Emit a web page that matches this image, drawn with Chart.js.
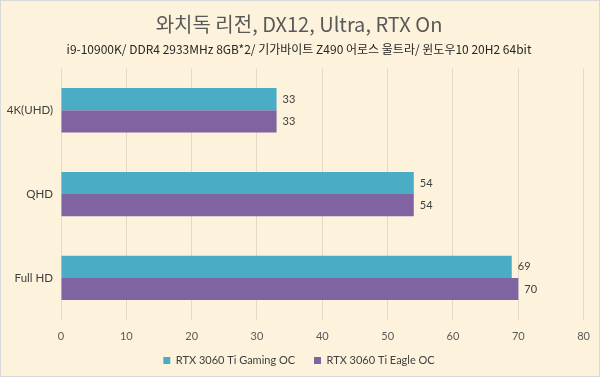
<!DOCTYPE html>
<html>
<head>
<meta charset="utf-8">
<script src="https://cdn.jsdelivr.net/npm/chart.js@4"></script>
<style>
  html, body { margin: 0; padding: 0; background: #fdf3dc; }
  #wrap { width: 600px; height: 377px; }
</style>
</head>
<body>
<div id="wrap"><canvas id="fpsChart" width="600" height="377"></canvas></div>
<script>
const resolutions = ['4K(UHD)', 'QHD', 'Full HD'];
const gamingOC = [33, 54, 69];
const eagleOC = [33, 54, 70];
const seriesNames = ['RTX 3060 Ti Gaming OC', 'RTX 3060 Ti Eagle OC'];
const xTicks = [0, 10, 20, 30, 40, 50, 60, 70, 80];

const latin = "'Lato', 'Noto Sans CJK KR', sans-serif";

// paper-ish background behind everything
const paperBg = {
    id: 'paperBg',
    beforeDraw(chart) {
        const c = chart.ctx;
        c.save();
        c.fillStyle = '#fdf3dc';
        c.fillRect(0, 0, chart.width, chart.height);
        c.strokeStyle = '#d9d9d9';
        c.strokeRect(0.5, 0.5, chart.width - 1, chart.height - 1);
        c.restore();
    }
};

// value labels at the end of each bar
const barValues = {
    id: 'barValues',
    afterDatasetsDraw(chart) {
        const c = chart.ctx;
        c.save();
        c.font = '11px ' + latin;
        c.fillStyle = '#404040';
        c.textBaseline = 'middle';
        chart.data.datasets.forEach((ds, i) => {
            chart.getDatasetMeta(i).data.forEach((bar, j) => {
                c.fillText(ds.data[j], bar.x + 6, bar.y);
            });
        });
        c.restore();
    }
};

new Chart(document.getElementById('fpsChart'), {
    type: 'bar',
    data: {
        labels: resolutions,
        datasets: [{
            label: seriesNames[0],
            data: gamingOC,
            backgroundColor: '#4bacc6'
        }, {
            label: seriesNames[1],
            data: eagleOC,
            backgroundColor: '#8064a2'
        }]
    },
    options: {
        indexAxis: 'y',
        responsive: false,
        animation: false,
        layout: { padding: { left: 4, right: 6, top: 10, bottom: 1 } },
        datasets: {
            bar: { categoryPercentage: 0.53, barPercentage: 1.0 }
        },
        scales: {
            x: {
                min: 0,
                max: 80,
                afterBuildTicks: (scale) => { scale.ticks = xTicks.map(v => ({ value: v })); },
                ticks: { color: '#595959', font: { size: 11, family: latin }, padding: 10 },
                grid: { color: '#e3d9c4', drawTicks: false },
                border: { display: false }
            },
            y: {
                ticks: { color: '#404040', font: { size: 11.5, family: latin }, padding: 8 },
                grid: { display: false, drawTicks: false },
                border: { display: false },
                afterFit: (scale) => { scale.width = 57; }
            }
        },
        plugins: {
            title: {
                display: true,
                text: '와치독 리전, DX12, Ultra, RTX On',
                color: '#595959',
                font: { size: 20, weight: 'normal', family: "'Noto Sans CJK KR', sans-serif" },
                padding: { top: 2, bottom: 4 }
            },
            subtitle: {
                display: true,
                text: 'i9-10900K/ DDR4 2933MHz 8GB*2/ 기가바이트 Z490 어로스 울트라/ 윈도우10 20H2 64bit',
                color: '#262626',
                font: { size: 12, family: "'Noto Sans CJK KR', sans-serif" },
                padding: { top: 2, bottom: 12 }
            },
            legend: {
                position: 'bottom',
                labels: {
                    color: '#404040',
                    font: { size: 11, family: latin },
                    boxWidth: 7,
                    boxHeight: 7,
                    padding: 2,
                    // small vertical padding, so widen the gap between items with spaces
                    generateLabels: (chart) => {
                        const items = Chart.defaults.plugins.legend.labels.generateLabels(chart);
                        items.forEach((it, i) => { if (i < items.length - 1) it.text += '      '; });
                        return items;
                    }
                }
            },
            tooltip: { enabled: false }
        }
    },
    plugins: [paperBg, barValues]
});
</script>
</body>
</html>
